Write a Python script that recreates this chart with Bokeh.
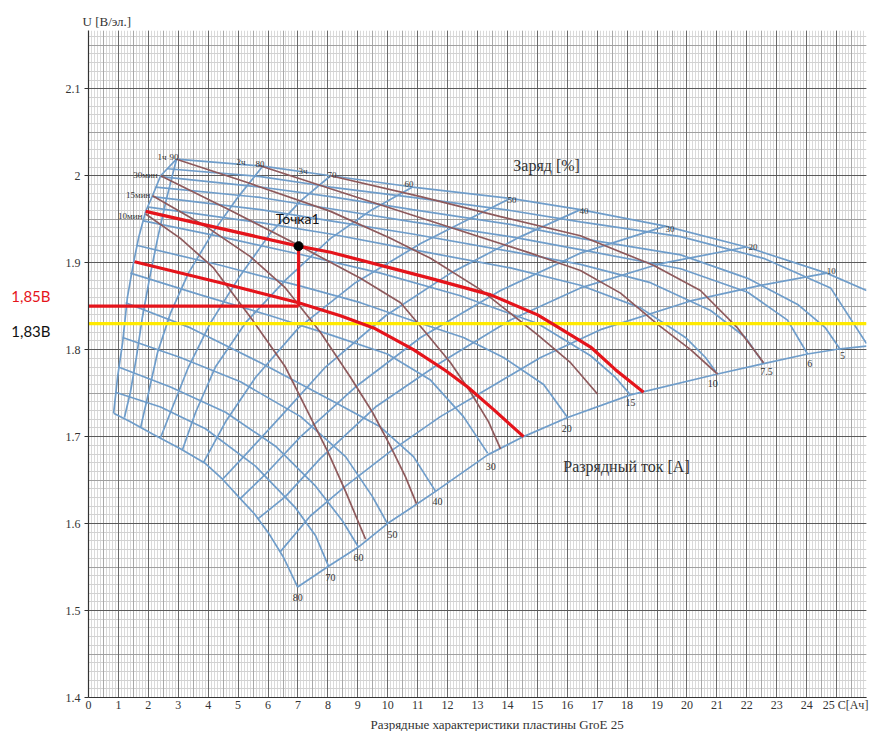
from bokeh.plotting import figure
from bokeh.models import (Grid, SingleIntervalTicker, FixedTicker, CustomJSTickFormatter,
                          Label, ColumnDataSource, Range1d, LinearAxis, Title)
from bokeh.embed import file_html
from bokeh.resources import INLINE
from bokeh.core.properties import value

SERIF = "Liberation Serif"
SANS = "Lato"
BLUE = "#6f9dca"
BROWN = "#8e5a5c"
RED = "#e5141b"
YELLOW = "#ffea00"

# ---------------- axis ticks ----------------
x_ticks = [0, 1, 2, 3, 4, 5, 6, 7, 8, 9, 10, 11, 12, 13, 14, 15, 16, 17, 18, 19, 20, 21, 22, 23, 24, 25.3]
y_ticks = [1.4, 1.5, 1.6, 1.7, 1.8, 1.9, 2.0, 2.1]

# ---------------- boundaries of the nomogram ----------------
left_boundary_x = [2.94, 2.41, 2.14, 1.91, 1.67, 1.50, 1.30, 1.14, 0.97, 0.84]
left_boundary_y = [2.019, 2.000, 1.977, 1.959, 1.928, 1.899, 1.860, 1.808, 1.768, 1.727]

bottom_boundary_x = [6.99, 8.02, 9.02, 9.99, 11.0, 11.60, 13.34, 14.54, 16.01, 18.11, 21.02, 22.56, 24.03, 25.13, 26.0]
bottom_boundary_y = [1.527, 1.551, 1.573, 1.600, 1.623, 1.637, 1.679, 1.700, 1.722, 1.748, 1.772, 1.784, 1.795, 1.801, 1.804]

# ---------------- blue arcs: discharge current lines ----------------
current_arc_x = [
    [2.94, 5.82, 8.09, 10.83, 14.10, 16.44, 19.28, 21.99, 24.67, 26.0],
    [2.64, 5.75, 8.09, 10.83, 14.10, 16.44, 19.79, 22.56, 24.80, 26.0],
    [2.41, 5.75, 8.09, 10.83, 14.10, 16.44, 19.79, 22.03, 23.70, 24.63, 25.13],
    [2.24, 5.75, 8.09, 10.83, 14.10, 16.44, 19.79, 22.03, 23.36, 24.03],
    [2.14, 5.75, 8.09, 10.83, 14.10, 16.44, 18.78, 20.79, 21.96, 22.56],
    [2.01, 5.75, 8.09, 10.83, 14.10, 16.44, 18.45, 19.95, 20.62, 21.02],
    [1.84, 4.41, 7.02, 9.76, 12.43, 15.01, 16.78, 17.61, 18.11],
    [1.60, 4.41, 7.09, 9.09, 10.86, 12.53, 13.87, 15.21, 16.01],
    [1.40, 3.74, 6.08, 8.09, 9.99, 11.43, 12.53, 13.34],
    [1.24, 3.41, 5.75, 8.09, 9.76, 10.86, 11.60],
    [1.14, 3.07, 5.08, 7.09, 8.59, 9.49, 9.99],
    [1.00, 2.74, 4.58, 6.25, 7.59, 8.49, 9.02],
    [0.90, 2.41, 3.91, 5.58, 6.92, 7.59, 8.02],
    [0.84, 1.40, 2.14, 3.07, 3.91, 4.48, 5.01, 5.55, 6.02, 6.52, 6.99],
]
current_arc_y = [
    [2.019, 2.011, 2.000, 1.987, 1.974, 1.961, 1.942, 1.918, 1.888, 1.868],
    [2.008, 1.999, 1.987, 1.975, 1.960, 1.947, 1.930, 1.905, 1.871, 1.807],
    [1.999, 1.987, 1.976, 1.961, 1.944, 1.928, 1.909, 1.882, 1.852, 1.825, 1.800],
    [1.987, 1.975, 1.962, 1.947, 1.930, 1.915, 1.893, 1.866, 1.834, 1.795],
    [1.976, 1.961, 1.948, 1.933, 1.913, 1.898, 1.877, 1.845, 1.814, 1.784],
    [1.964, 1.946, 1.933, 1.915, 1.894, 1.874, 1.848, 1.814, 1.791, 1.772],
    [1.948, 1.930, 1.910, 1.888, 1.862, 1.830, 1.793, 1.768, 1.748],
    [1.920, 1.897, 1.873, 1.854, 1.833, 1.814, 1.791, 1.760, 1.722],
    [1.888, 1.863, 1.839, 1.817, 1.795, 1.765, 1.723, 1.681],
    [1.854, 1.825, 1.785, 1.742, 1.711, 1.677, 1.637],
    [1.814, 1.791, 1.763, 1.723, 1.677, 1.631, 1.600],
    [1.780, 1.757, 1.728, 1.689, 1.643, 1.603, 1.573],
    [1.751, 1.734, 1.709, 1.666, 1.618, 1.586, 1.551],
    [1.727, 1.717, 1.703, 1.686, 1.669, 1.651, 1.631, 1.611, 1.589, 1.561, 1.527],
]

# ---------------- blue lines: state of charge (90 ... 10 %) ----------------
charge_line_x = [
    [2.94, 2.61, 2.31, 2.04, 1.80, 1.60, 1.40, 1.20],
    [5.82, 5.01, 4.14, 3.34, 2.74, 2.31, 2.01, 1.74],
    [8.09, 7.09, 6.08, 5.01, 4.08, 3.34, 2.81, 2.41],
    [10.83, 9.43, 8.09, 6.58, 5.25, 4.24, 3.58, 3.14],
    [14.10, 12.77, 11.10, 8.92, 7.02, 5.58, 4.58, 3.84],
    [16.44, 14.44, 12.10, 9.93, 7.92, 6.42, 5.35, 4.48],
    [19.28, 16.44, 13.77, 11.10, 8.92, 7.09, 5.92, 5.08],
    [21.99, 19.12, 16.44, 14.10, 11.76, 9.59, 7.75, 6.58, 5.68],
    [24.67, 22.46, 20.12, 17.11, 15.11, 13.44, 11.76, 10.09, 8.59, 7.42, 6.42],
]
charge_line_y = [
    [2.019, 1.974, 1.928, 1.882, 1.837, 1.791, 1.751, 1.722],
    [2.011, 1.976, 1.934, 1.888, 1.842, 1.797, 1.751, 1.710],
    [2.000, 1.971, 1.934, 1.882, 1.831, 1.780, 1.734, 1.699],
    [1.987, 1.960, 1.928, 1.880, 1.831, 1.780, 1.728, 1.685],
    [1.974, 1.951, 1.922, 1.877, 1.825, 1.768, 1.717, 1.670],
    [1.961, 1.930, 1.888, 1.839, 1.780, 1.723, 1.683, 1.651],
    [1.942, 1.911, 1.868, 1.814, 1.757, 1.700, 1.657, 1.629],
    [1.918, 1.899, 1.871, 1.834, 1.785, 1.734, 1.675, 1.631, 1.606],
    [1.888, 1.874, 1.856, 1.823, 1.791, 1.757, 1.723, 1.683, 1.643, 1.609, 1.568],
]

# ---------------- brown discharge curves (10мин, 15мин, 30мин, 1ч, 2ч, 3ч) ----------------
discharge_x = [
    [1.91, 3.07, 4.18, 5.48, 6.58, 7.25, 8.02, 8.59, 9.26],
    [2.14, 3.91, 5.41, 6.58, 7.75, 8.76, 9.49, 10.09, 10.59, 10.96],
    [2.41, 4.75, 7.02, 9.09, 10.43, 11.26, 12.10, 12.77, 13.37, 13.77],
    [2.94, 5.41, 8.09, 10.09, 11.43, 13.10, 15.01, 16.11, 17.01],
    [5.68, 8.09, 11.43, 14.77, 16.44, 17.78, 19.02, 20.12, 21.02],
    [8.09, 11.10, 13.77, 16.44, 18.88, 20.45, 21.69, 22.56],
]
discharge_y = [
    [1.956, 1.928, 1.894, 1.834, 1.780, 1.734, 1.681, 1.637, 1.582],
    [1.977, 1.942, 1.907, 1.871, 1.820, 1.768, 1.728, 1.689, 1.654, 1.623],
    [2.000, 1.960, 1.920, 1.882, 1.854, 1.820, 1.785, 1.751, 1.717, 1.686],
    [2.019, 1.991, 1.959, 1.928, 1.905, 1.869, 1.817, 1.785, 1.749],
    [2.012, 1.985, 1.948, 1.911, 1.891, 1.865, 1.829, 1.800, 1.772],
    [2.000, 1.976, 1.953, 1.931, 1.897, 1.868, 1.825, 1.785],
]

# ---------------- hand-drawn red curves and marks ----------------
red_upper_x = [1.91, 7.02, 8.09, 11.43, 13.44, 15.01, 15.88, 16.78, 17.61, 18.55]
red_upper_y = [1.959, 1.919, 1.912, 1.882, 1.863, 1.840, 1.822, 1.803, 1.777, 1.751]
red_lower_x = [1.54, 4.41, 7.02, 8.42, 9.53, 10.86, 11.93, 12.67, 13.54, 14.54]
red_lower_y = [1.901, 1.877, 1.854, 1.839, 1.825, 1.800, 1.776, 1.757, 1.731, 1.700]
point1_x = 7.02
point1_y = 1.919
level_red = 1.85
level_yellow = 1.83
c_max = 26
level_red_text = "1,85В"
level_yellow_text = "1,83В"

# ---------------- annotations ----------------
charge_label_text = ["1ч", "90", "2ч", "80", "3ч", "70", "60", "50", "40", "30", "20", "10"]
charge_label_x = [2.31, 2.71, 4.95, 5.58, 7.02, 7.99, 10.56, 14.0, 16.41, 19.28, 22.06, 24.67]
charge_label_y = [2.021, 2.021, 2.016, 2.013, 2.005, 2.001, 1.990, 1.972, 1.959, 1.939, 1.918, 1.890]

time_label_text = ["30мин", "15мин", "10мин"]
time_label_x = [2.31, 2.07, 1.80]
time_label_y = [2.001, 1.978, 1.954]

current_label_text = ["80", "70", "60", "50", "40", "30", "20", "15", "10", "7.5", "6", "5"]
current_label_x = [6.99, 8.09, 9.02, 10.16, 11.66, 13.44, 15.98, 18.11, 20.86, 22.66, 24.10, 25.20]
current_label_y = [1.515, 1.538, 1.561, 1.588, 1.625, 1.666, 1.709, 1.739, 1.761, 1.775, 1.784, 1.793]

# ---------------- figure ----------------
p = figure(width=870, height=731, output_backend="svg", toolbar_location=None,
           x_range=Range1d(0, 26), y_range=Range1d(1.4, 2.167),
           min_border_left=88, min_border_right=4, min_border_top=30, min_border_bottom=28)
p.outline_line_color = None
p.background_fill_color = "#ffffff"
p.border_fill_color = "#ffffff"
p.xgrid.visible = False
p.ygrid.visible = False

p.title.text = "U [В/эл.]"
p.title.align = "left"
p.title.offset = -6
p.title.standoff = 3
p.title.text_font = SERIF
p.title.text_font_size = "13px"
p.title.text_font_style = "normal"
p.title.text_color = "#333333"


def add_grid(dim, interval, color, width=1.0):
    g = Grid(dimension=dim, ticker=SingleIntervalTicker(interval=interval),
             grid_line_color=color, grid_line_width=width)
    p.add_layout(g)


add_grid(0, 0.1, "#dadada")
add_grid(1, 0.01, "#d2d2d2")
add_grid(0, 0.5, "#a8a8a8")
add_grid(1, 0.05, "#a0a0a0")
add_grid(0, 1, "#6a6a6a")
add_grid(1, 0.1, "#5a5a5a")

for ax in (p.xaxis[0], p.yaxis[0]):
    ax.axis_line_color = "#333333"
    ax.axis_line_width = 1.2
    ax.minor_tick_line_color = None
    ax.major_label_text_font = SERIF
    ax.major_label_text_font_size = "12px"
    ax.major_label_text_color = "#333333"

p.xaxis.ticker = FixedTicker(ticks=x_ticks)
p.xaxis.formatter = CustomJSTickFormatter(
    code="return tick > 25.1 ? '25 C[Ач]' : tick.toFixed(0);")
p.xaxis.major_tick_out = 0
p.xaxis.major_tick_in = 0
p.xaxis.major_label_standoff = 0

p.yaxis.ticker = FixedTicker(ticks=y_ticks)
p.yaxis.formatter = CustomJSTickFormatter(code="return (Math.round(tick*10)/10).toString();")
p.yaxis.major_tick_out = 4
p.yaxis.major_tick_in = 0
p.yaxis.major_tick_line_color = "#333333"
p.yaxis.major_label_standoff = 4

# caption below the chart
p.add_layout(Title(text="Разрядные характеристики пластины GroE 25", align="left", offset=282,
                   standoff=0, text_font=SERIF, text_font_size="13px", text_font_style="normal",
                   text_color="#333333"), "below")

# outside-left level labels, as extra left axes
red_axis = LinearAxis(ticker=FixedTicker(ticks=[1.862]),
                      formatter=CustomJSTickFormatter(code="return '%s';" % level_red_text),
                      axis_line_color=None, major_tick_line_color=None, minor_tick_line_color=None,
                      major_label_standoff=6, major_label_text_font=SANS,
                      major_label_text_font_size="15px", major_label_text_color=RED)
p.add_layout(red_axis, "left")
black_axis = LinearAxis(ticker=FixedTicker(ticks=[1.821]),
                        formatter=CustomJSTickFormatter(code="return '%s';" % level_yellow_text),
                        axis_line_color=None, major_tick_line_color=None, minor_tick_line_color=None,
                        major_label_standoff=-48, major_label_text_font=SANS,
                        major_label_text_font_size="15px", major_label_text_color="#111111")
p.add_layout(black_axis, "left")

# blue network
p.multi_line(xs=current_arc_x, ys=current_arc_y, line_color=BLUE, line_width=1.7)
p.multi_line(xs=charge_line_x, ys=charge_line_y, line_color=BLUE, line_width=1.7)
p.line(left_boundary_x, left_boundary_y, line_color=BLUE, line_width=1.7)
p.line(bottom_boundary_x, bottom_boundary_y, line_color=BLUE, line_width=1.7)

# brown discharge curves
p.multi_line(xs=discharge_x, ys=discharge_y, line_color=BROWN, line_width=1.7)

# red and yellow marks
p.line([0, c_max], [level_yellow, level_yellow], line_color=YELLOW, line_width=3.2)
p.line([0, point1_x], [level_red, level_red], line_color=RED, line_width=3.2)
p.line([point1_x, point1_x], [level_red, point1_y], line_color=RED, line_width=3.2)
p.line(red_upper_x, red_upper_y, line_color=RED, line_width=3.2)
p.line(red_lower_x, red_lower_y, line_color=RED, line_width=3.2)
p.scatter([point1_x], [point1_y], size=9, color="black")

# small labels
src_c = ColumnDataSource(dict(x=charge_label_x, y=charge_label_y, t=charge_label_text))
p.text(x="x", y="y", text="t", source=src_c, text_font=value(SERIF), text_font_size="9px",
       text_color="#333333", text_align="left", text_baseline="alphabetic")
src_t = ColumnDataSource(dict(x=time_label_x, y=time_label_y, t=time_label_text))
p.text(x="x", y="y", text="t", source=src_t, text_font=value(SERIF), text_font_size="9px",
       text_color="#333333", text_align="right", text_baseline="alphabetic")
src_i = ColumnDataSource(dict(x=current_label_x, y=current_label_y, t=current_label_text))
p.text(x="x", y="y", text="t", source=src_i, text_font=value(SERIF), text_font_size="10px",
       text_color="#333333", text_align="center", text_baseline="middle")

p.add_layout(Label(x=15.31, y=2.012, text="Заряд [%]", text_font=SERIF, text_font_size="16px",
                   text_color="#333333", text_align="center", text_baseline="middle"))
p.add_layout(Label(x=17.98, y=1.666, text="Разрядный ток [А]", text_font=SERIF, text_font_size="16px",
                   text_color="#333333", text_align="center", text_baseline="middle"))
p.add_layout(Label(x=6.99, y=1.951, text="Точка1", text_font=SANS, text_font_size="14px",
                   text_color="#111111", text_align="center", text_baseline="middle"))

open("out.html", "w").write(file_html(p, INLINE))
